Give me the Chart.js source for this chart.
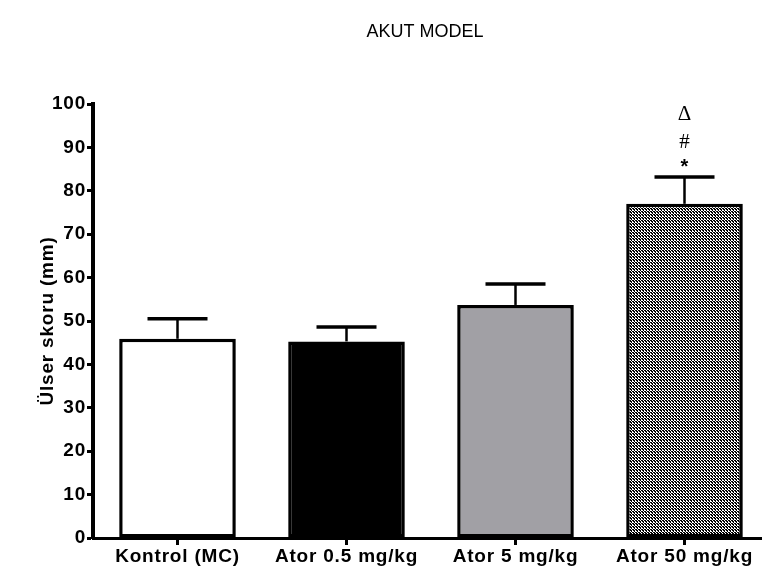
<!DOCTYPE html>
<html>
<head>
<meta charset="utf-8">
<script src="https://cdn.jsdelivr.net/npm/chart.js@4.4.1/dist/chart.umd.min.js"></script>
<style>
  html, body { margin: 0; padding: 0; background: #fff; overflow: hidden; }
  #wrap { width: 762px; height: 573px; overflow: hidden; position: relative; }
  #chart { display: block; }
</style>
</head>
<body>
<div id="wrap"><canvas id="chart" width="790" height="573"></canvas></div>
<script>
const CATEGORIES = ['Kontrol (MC)', 'Ator 0.5 mg/kg', 'Ator 5 mg/kg', 'Ator 50 mg/kg'];
const MEANS = [45.9, 45.3, 53.7, 77.0];
const SEM = [4.6, 3.3, 4.8, 6.2];
const MARKS = [[], [], [], ['*', '#', '\u0394']];
const Y_TICKS = [0, 10, 20, 30, 40, 50, 60, 70, 80, 90, 100];

const FONT = '"Liberation Sans", Arial, sans-serif';

function makeDotPattern() {
  const tile = document.createElement('canvas');
  tile.width = 3;
  tile.height = 3;
  const t = tile.getContext('2d');
  t.fillStyle = '#000';
  t.fillRect(0, 0, 3, 3);
  t.fillStyle = '#fff';
  t.fillRect(0, 0, 1, 1);
  t.fillRect(1, 1, 1, 1);
  t.fillRect(2, 2, 1, 1);
  t.fillRect(2, 0, 1, 1);
  return document.getElementById('chart').getContext('2d').createPattern(tile, 'repeat');
}

// the original labels look a little wider than the font, so space the letters out a bit
const spacingPlugin = {
  id: 'wideText',
  beforeUpdate(chart) { chart.ctx.letterSpacing = '0.8px'; },
  beforeDraw(chart) { chart.ctx.letterSpacing = '0.8px'; }
};

const titlePlugin = {
  id: 'akutTitle',
  afterDraw(chart) {
    const { ctx } = chart;
    ctx.save();
    ctx.letterSpacing = '0px';
    ctx.font = `18px ${FONT}`;
    ctx.fillStyle = '#000';
    ctx.textAlign = 'center';
    ctx.textBaseline = 'middle';
    ctx.fillText('AKUT MODEL', 425, 32);
    ctx.restore();
  }
};

const errorBarPlugin = {
  id: 'semBars',
  afterDatasetsDraw(chart) {
    const { ctx, scales } = chart;
    const meta = chart.getDatasetMeta(0);
    ctx.save();
    ctx.letterSpacing = '0px';
    ctx.strokeStyle = '#000';
    meta.data.forEach((bar, i) => {
      const x = bar.x;
      const yTop = scales.y.getPixelForValue(MEANS[i]);
      const yCap = scales.y.getPixelForValue(MEANS[i] + SEM[i]);
      ctx.lineWidth = 2.5;
      ctx.beginPath();
      ctx.moveTo(x, yTop);
      ctx.lineTo(x, yCap);
      ctx.stroke();
      ctx.lineWidth = 3.5;
      ctx.beginPath();
      ctx.moveTo(x - 30, yCap);
      ctx.lineTo(x + 30, yCap);
      ctx.stroke();

      const marks = MARKS[i] || [];
      ctx.fillStyle = '#000';
      ctx.textAlign = 'center';
      ctx.textBaseline = 'middle';
      const offsets = [9, 34, 62];
      marks.forEach((m, k) => {
        ctx.font = k === 0 ? `bold 20px ${FONT}` : `21px "Liberation Serif", ${FONT}`;
        ctx.fillText(m, x, yCap - offsets[k]);
      });
    });
    ctx.restore();
  }
};

const canvas = document.getElementById('chart');
const dotPattern = makeDotPattern();

new Chart(canvas, {
  type: 'bar',
  data: {
    labels: CATEGORIES,
    datasets: [{
      data: MEANS,
      backgroundColor: ['#ffffff', '#000000', '#a1a0a5', dotPattern],
      borderColor: '#000',
      borderWidth: 3.5,
      borderSkipped: false,
      barPercentage: 0.69,
      categoryPercentage: 1
    }]
  },
  options: {
    responsive: false,
    animation: false,
    layout: { padding: { left: 28, top: 104, right: 21, bottom: 0 } },
    plugins: {
      legend: { display: false },
      tooltip: { enabled: false }
    },
    scales: {
      x: {
        offset: true,
        afterFit: (scale) => { scale.height = 35; },
        grid: {
          offset: false,
          drawOnChartArea: false,
          drawTicks: true,
          tickLength: 7,
          tickWidth: 3,
          tickColor: '#000'
        },
        border: { display: true, color: '#000', width: 3 },
        ticks: {
          color: '#000',
          font: { family: FONT, size: 19, weight: 'bold' },
          padding: 0,
          maxRotation: 0,
          autoSkip: false
        }
      },
      y: {
        min: 0,
        max: 100,
        afterFit: (scale) => { scale.width = 65; },
        afterBuildTicks: (scale) => { scale.ticks = Y_TICKS.map((v) => ({ value: v })); },
        grid: {
          drawOnChartArea: false,
          drawTicks: true,
          tickLength: 6,
          tickWidth: 3,
          tickColor: '#000'
        },
        border: { display: true, color: '#000', width: 4 },
        ticks: {
          color: '#000',
          font: { family: FONT, size: 19, weight: 'bold' },
          padding: 1
        },
        title: {
          display: true,
          text: 'Ülser skoru (mm)',
          color: '#000',
          font: { family: FONT, size: 19, weight: 'bold' },
          padding: { top: 8, bottom: 8 }
        }
      }
    }
  },
  plugins: [spacingPlugin, errorBarPlugin, titlePlugin]
});
</script>
</body>
</html>
